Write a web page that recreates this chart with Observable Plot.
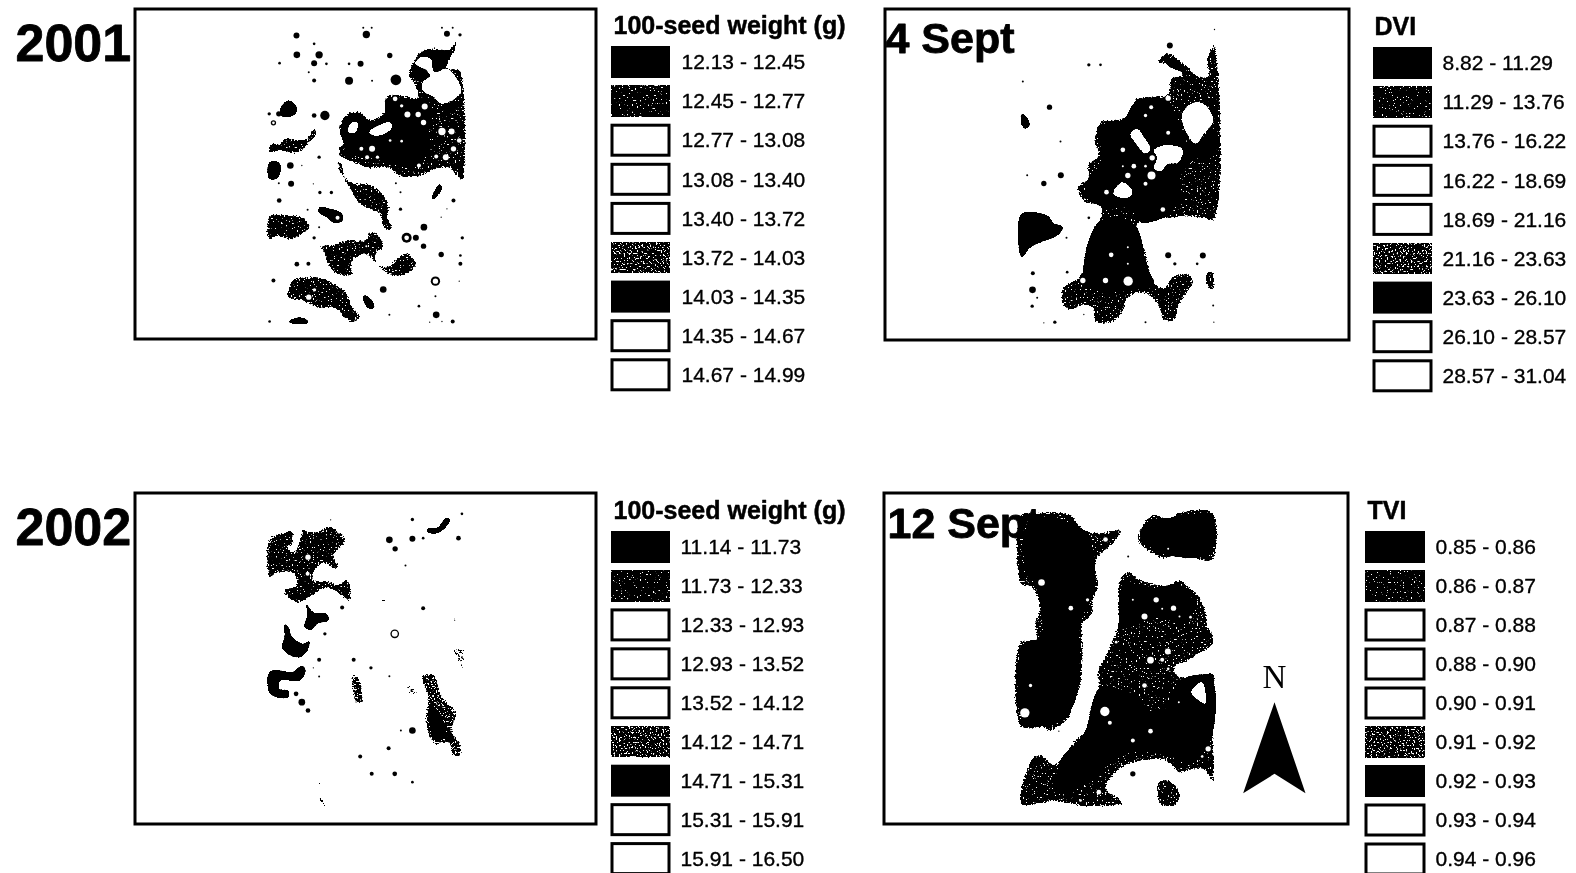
<!DOCTYPE html>
<html><head><meta charset="utf-8">
<script src="https://cdn.jsdelivr.net/npm/d3@7"></script>
<script src="https://cdn.jsdelivr.net/npm/@observablehq/plot@0.6"></script>
<style>html,body{margin:0;padding:0;background:#fff}svg{display:block;filter:blur(.45px)}</style>
</head><body><div id="chart"></div>
<script>
// ---- legend values
const seedWeight2001 = ["12.13 - 12.45","12.45 - 12.77","12.77 - 13.08","13.08 - 13.40","13.40 - 13.72","13.72 - 14.03","14.03 - 14.35","14.35 - 14.67","14.67 - 14.99"];
const seedWeight2002 = ["11.14 - 11.73","11.73 - 12.33","12.33 - 12.93","12.93 - 13.52","13.52 - 14.12","14.12 - 14.71","14.71 - 15.31","15.31 - 15.91","15.91 - 16.50"];
const dviClasses = ["8.82 - 11.29","11.29 - 13.76","13.76 - 16.22","16.22 - 18.69","18.69 - 21.16","21.16 - 23.63","23.63 - 26.10","26.10 - 28.57","28.57 - 31.04"];
const tviClasses = ["0.85 - 0.86","0.86 - 0.87","0.87 - 0.88","0.88 - 0.90","0.90 - 0.91","0.91 - 0.92","0.92 - 0.93","0.93 - 0.94","0.94 - 0.96"];
const classShade = ["solid","speck","none","none","none","heavy","solid","none","none"];

// ---- map zones, [easting, northing] in map units per panel
const a_speck = [
 [[880,390],[900,340],[935,330],[965,355],[1000,330],[1000,290],[1030,280],[1060,285],[1085,290],[1075,250],[1060,225],[1075,180],[1095,150],[1130,140],[1165,145],[1185,120],[1190,140],[1175,170],[1165,200],[1195,205],[1205,225],[1205,550],[1190,530],[1165,505],[1130,510],[1090,530],[1040,530],[1010,505],[960,505],[920,490],[900,480],[880,465],[880,440],[895,425]],
 [[700,430],[730,425],[740,410],[770,415],[800,410],[810,385],[825,385],[825,405],[805,430],[790,450],[760,462],[730,452],[698,460]],
 [[875,480],[890,485],[900,530],[925,545],[965,550],[1005,590],[1015,625],[1010,650],[1025,680],[1010,692],[995,680],[985,640],[950,625],[925,600],[905,560],[880,510]],
 [[828,735],[870,730],[905,715],[950,715],[960,692],[985,700],[1000,740],[980,760],[985,790],[1010,795],[1030,775],[1060,755],[1085,790],[1065,820],[1030,830],[1000,815],[975,790],[955,765],[925,775],[915,800],[920,820],[905,830],[865,815],[850,790],[840,755]],
 [[760,835],[840,830],[880,855],[900,870],[920,920],[940,945],[920,968],[890,950],[870,925],[830,925],[790,905],[745,890],[750,860]],
 [[698,645],[745,640],[790,650],[808,680],[790,700],[760,720],[725,710],[698,720]]
];
const a_solid = [
 [[885,390],[905,345],[935,338],[965,362],[1000,340],[1005,295],[1060,295],[1110,300],[1125,340],[1110,420],[1100,490],[1060,500],[1000,480],[950,470],[905,460],[895,430]],
 [[1075,225],[1085,170],[1130,150],[1165,155],[1160,200],[1130,215],[1100,245]],
 [[730,320],[750,300],[770,315],[770,340],[750,350],[730,345]],
 [[700,485],[725,485],[730,510],[720,535],[700,535]],
 [[830,620],[860,625],[890,640],[892,660],[870,668],[850,650],[828,635]],
 [[750,965],[770,952],[795,955],[802,968]],
 [[1125,585],[1145,550],[1150,565],[1125,600]],
 [[945,885],[960,890],[975,920],[960,925],[945,900]]
];
const a_white = [
 [[1095,170],[1120,175],[1130,215],[1165,205],[1195,250],[1200,275],[1150,310],[1130,290],[1100,270],[1100,245],[1120,225],[1095,200],[1080,190]],
 [[905,395],[915,365],[930,365],[925,395]],
 [[960,395],[985,375],[1015,365],[1020,380],[1000,400],[975,405]]
];
const a_whiteDots = [[1060,342,9],[1088,342,8],[1102,366,8],[1105,318,9],[1045,316,5],[1028,295,7],[1150,393,11],[1175,393,9],[1195,420,7],[1180,445,8],[1160,470,9],[1135,468,6],[1090,495,6],[1045,422,4],[1015,420,4],[940,445,6],[968,445,9],[955,470,6],[982,470,5],[878,495,5],[953,737,3],[818,868,5],[803,890,8]];
const a_blackDots = [[771,105,9],[953,102,11],[1163,100,9],[1197,103,5],[817,130,4],[772,163,10],[830,163,11],[817,188,9],[727,188,4],[849,190,4],[908,190,4],[938,190,9],[1014,165,8],[817,240,6],[908,241,12],[968,241,3],[803,215,3],[1030,238,16],[945,82,3],[967,82,3],[1150,82,3],[1178,82,3],[700,340,5],[725,340,8],[817,345,7],[845,345,14],[755,495,10],[830,470,5],[785,495,2],[757,550,9],[725,548,3],[815,550,2],[1030,548,3],[832,576,5],[862,576,5],[726,600,7],[1042,626,5],[1180,600,6],[1042,575,3],[1163,625,2],[1148,650,2],[800,628,3],[830,680,3],[817,712,5],[1103,680,10],[1082,712,9],[1102,737,8],[1203,712,5],[1148,762,8],[772,791,7],[802,790,6],[711,840,6],[997,867,10],[1133,887,3],[1090,917,4],[965,915,8],[1013,943,3],[1135,943,10],[1178,963,6],[701,963,4],[1150,963,2],[1198,790,6],[1198,765,4],[1118,965,2],[1195,842,2],[1100,220,16],[1085,230,10],[1058,712,15],[1133,842,14],[711,367,8]];
const a_ringHoles = [[1058,712,7],[1133,842,8],[711,367,4],[878,652,6]];

const b_speck = [
 [[870,165],[895,155],[925,175],[950,195],[985,225],[1012,225],[1005,180],[1032,130],[1032,660],[990,655],[950,650],[900,655],[860,660],[810,665],[800,690],[820,730],[835,790],[850,840],[880,860],[905,825],[960,820],[970,850],[950,880],[925,920],[915,960],[880,962],[865,925],[840,890],[800,880],[770,900],[765,925],[730,965],[670,965],[665,925],[640,915],[600,930],[575,915],[575,860],[620,830],[640,800],[640,760],[655,710],[680,670],[690,620],[640,605],[618,560],[650,530],[650,490],[680,465],[670,420],[690,360],[740,355],[780,340],[790,295],[850,285],[890,280],[895,240],[910,225],[930,225],[930,205],[895,195],[860,190]],
 [[1000,835],[1015,810],[1030,815],[1030,875],[1010,860]]
];
const b_solid = [
 [[680,380],[760,355],[795,305],[880,295],[930,370],[950,430],[1032,400],[1032,450],[960,480],[930,530],[920,610],[880,650],[810,665],[780,625],[700,620],[650,590],[650,540],[690,490],[690,430]],
 [[453,640],[530,645],[550,668],[578,680],[560,705],[510,725],[480,740],[453,770]],
 [[453,340],[465,345],[478,372],[465,385],[453,372]],
 [[690,660],[790,670],[830,800],[850,850],[780,870],[650,860],[640,790]],
 [[870,170],[925,185],[950,215],[900,200]]
];
const b_white = [
 [[940,330],[975,305],[1005,315],[1028,360],[1000,400],[975,430],[945,390],[935,360]],
 [[780,400],[800,385],[820,410],[840,445],[825,460],[805,440]],
 [[850,450],[880,435],[935,445],[925,485],[890,490],[875,510],[850,505],[860,470]],
 [[728,578],[755,545],[785,570],[780,588],[745,590]]
];
const b_whiteDots = [[893,293,8],[842,320,6],[825,345,5],[893,397,6],[757,448,7],[845,472,8],[790,497,7],[825,497,4],[757,497,3],[772,525,8],[843,525,12],[825,550,6],[708,575,7],[877,627,7],[722,763,7],[772,740,3],[772,790,3],[637,840,8],[705,840,8],[773,842,14]];
const b_blackDots = [[898,135,9],[537,320,8],[571,524,9],[520,549,8],[893,764,9],[997,765,9],[486,868,10],[570,423,3],[470,524,3],[588,712,3],[655,652,4],[690,193,4],[655,193,5],[457,243,3],[487,818,6],[500,892,3],[485,917,5],[590,815,4],[913,790,5],[980,790,4],[553,965,5],[520,967,2],[825,965,3],[1030,965,2],[1028,915,3],[1032,87,2],[640,942,2]];

const c_speck = [
 [[698,175],[750,150],[760,145],[765,190],[750,205],[765,212],[780,165],[785,140],[800,150],[830,150],[855,135],[895,165],[900,185],[880,210],[870,230],[885,255],[870,268],[845,250],[825,265],[815,295],[855,300],[880,310],[900,295],[915,320],[910,365],[890,350],[850,325],[810,350],[770,368],[735,330],[770,310],[760,280],[720,280],[700,295]]
];
const c_solid = [
 [[795,365],[815,395],[850,400],[855,420],[825,430],[810,448],[792,440],[800,400]],
 [[740,430],[750,440],[760,470],[790,490],[805,480],[800,510],[780,530],[755,525],[733,500],[740,470]],
 [[700,575],[730,570],[760,575],[785,555],[795,570],[780,600],[730,600],[725,625],[750,630],[750,650],[720,650],[700,635]],
 [[1112,145],[1140,140],[1160,112],[1172,118],[1160,140],[1140,158],[1112,155]],
 [[1120,670],[1150,710],[1160,770],[1135,780],[1115,720]]
];
const c_heavy = [
 [[1095,585],[1130,580],[1150,640],[1190,700],[1180,750],[1200,790],[1200,830],[1175,825],[1165,790],[1130,795],[1105,730],[1110,650]],
 [[915,580],[935,590],[945,670],[925,670],[915,630]]
];
const c_sparse = [
 [[1055,605],[1090,640],[1065,645]],[[1175,510],[1205,500],[1205,575],[1190,540]],
 [[990,350],[1005,350],[1005,365],[990,365]],[[1020,350],[1030,360],[1020,365]],[[830,900],[840,900],[835,915],[825,915]],[[825,950],[840,950],[850,980],[830,970]],[[840,772],[852,772],[845,785]],[[1180,405],[1195,430],[1180,430]],[[1040,530],[1050,530],[1040,545]],[[1135,560],[1150,560],[1140,575]],[[1085,560],[1097,570],[1085,575]],[[1065,430],[1075,430],[1070,440]],[[1190,630],[1197,645],[1187,645]]
];
const c_whiteDots = [[801,230,8],[800,280,6]];
const c_blackDots = [[770,640,7],[785,665,10],[801,690,7],[1073,117,5],[1073,175,9],[1101,173,4],[1193,173,7],[1202,100,4],[860,118,2],[1013,178,10],[1028,205,8],[1055,255,3],[890,381,6],[1101,383,6],[845,460,5],[830,538,6],[920,538,6],[965,562,5],[1013,587,3],[830,588,3],[815,562,2],[1073,750,10],[1043,750,3],[1011,803,6],[937,828,6],[967,880,6],[1027,880,7],[1073,905,4],[1027,460,13],[1172,775,12]];
const c_ringHoles = [[1027,460,9]];

const d_speck = [
 [[490,95],[600,100],[640,145],[690,155],[715,150],[750,145],[755,155],[725,195],[680,240],[685,320],[670,360],[670,400],[640,430],[640,500],[635,600],[625,640],[605,670],[605,700],[580,730],[535,755],[520,745],[450,740],[450,480],[495,480],[490,430],[505,380],[480,320],[450,315],[450,100]],
 [[815,130],[850,100],[900,115],[920,95],[1028,95],[1028,240],[975,235],[950,205],[925,215],[890,235],[860,230],[800,180]],
 [[745,300],[770,270],[810,295],[860,310],[900,310],[925,295],[960,320],[990,350],[1010,400],[1015,440],[1028,455],[1028,495],[990,520],[950,545],[915,560],[920,580],[950,590],[1028,578],[1028,700],[1028,910],[1000,870],[960,870],[925,880],[905,860],[880,840],[810,845],[770,855],[735,880],[710,925],[745,950],[760,970],[650,980],[550,965],[450,975],[450,920],[490,825],[520,825],[550,850],[610,780],[645,745],[655,690],[680,620],[680,570],[710,510],[740,430],[740,400]],
 [[860,905],[890,895],[930,930],[920,975],[870,975]]
];
const d_solid = [
 [[480,115],[620,135],[660,180],[670,330],[630,430],[625,600],[600,690],[530,735],[460,725],[460,490],[510,470],[510,380],[490,300],[470,280]],
 [[760,310],[860,325],[920,310],[970,370],[950,430],[860,410],[760,440]],
 [[690,620],[780,640],[840,690],[880,690],[930,600],[1020,590],[1020,780],[960,850],[880,820],[760,820],[660,900],[560,940],[570,840],[640,760]],
 [[830,125],[920,110],[1020,105],[1020,220],[880,220],[815,170]]
];
const d_heavy = [
 [[700,560],[750,470],[850,420],[920,440],[990,470],[930,510],[850,520],[830,560],[780,600],[700,590]],
 [[780,620],[830,600],[880,620],[880,670],[830,680]]
];
const d_white = [[[962,635],[995,605],[1005,670],[985,660]]];
const d_whiteDots = [[857,358,8],[909,383,8],[822,408,9],[960,410,4],[927,408,3],[892,513,9],[840,539,10],[875,538,6],[893,565,4],[822,615,7],[703,693,14],[718,727,6],[840,752,7],[787,780,6],[1013,805,8],[995,828,4],[685,935,7],[630,960,4],[737,485,4],[787,358,3],[875,385,3],[925,665,3],[513,306,10],[705,177,7],[601,383,7],[651,358,5],[480,615,5],[463,697,14],[893,205,3]];
const d_blackDots = [[773,228,3],[945,228,5],[787,880,8],[565,752,2]];
const d_arrow = [[[1212,665],[1305,938],[1212,880],[1118,938]]];

// ---- layout (page pixels)
const panels = {
 A:{ox:0,oy:0,sx:2.605,sy:3}, B:{ox:870,oy:0,sx:3,sy:3},
 C:{ox:0,oy:480,sx:2.605,sy:3}, D:{ox:870,oy:480,sx:3,sy:3}
};
const frames = [{x1:135,x2:596,y1:9,y2:339},{x1:885,x2:1349,y1:9,y2:340},{x1:135,x2:596,y1:493,y2:824},{x1:884,x2:1348,y1:493,y2:824}];
const legends = [
 {title:"100-seed weight (g)",labels:seedWeight2001,sw:[612,669],lx:681,tx:613,ty:25,y0:62,dy:39.1},
 {title:"DVI",labels:dviClasses,sw:[1374,1431],lx:1442,tx:1374,ty:26,y0:63,dy:39.1},
 {title:"100-seed weight (g)",labels:seedWeight2002,sw:[612,669],lx:680,tx:613,ty:510,y0:547,dy:38.95},
 {title:"TVI",labels:tviClasses,sw:[1366,1424],lx:1435,tx:1367,ty:510,y0:547,dy:39}
];
const headings = [
 {t:"2001",x:15,y:60,s:52},{t:"2002",x:15,y:544,s:52},{t:"4 Sept",x:885,y:52,s:43},{t:"12 Sept",x:887,y:537,s:43}
];

// ---- assemble rows
const poly = (p,list,tag)=>list.flatMap((pts,k)=>pts.map(([cx,cy])=>({id:p+tag+k,x:panels[p].ox+cx/panels[p].sx,y:panels[p].oy+cy/panels[p].sy})));
const dots = (p,list)=>list.map(([cx,cy,r])=>({x:panels[p].ox+cx/panels[p].sx,y:panels[p].oy+cy/panels[p].sy,r:r/3}));
const speck = [...poly("A",a_speck,"s"),...poly("B",b_speck,"s"),...poly("C",c_speck,"s"),...poly("D",d_speck,"s")];
const solid = [...poly("A",a_solid,"o"),...poly("B",b_solid,"o"),...poly("C",c_solid,"o"),...poly("D",d_solid,"o")];
const heavy = [...poly("C",c_heavy,"h"),...poly("D",d_heavy,"h")];
const sparse = poly("C",c_sparse,"p");
const white = [...poly("A",a_white,"w"),...poly("B",b_white,"w"),...poly("D",d_white,"w")];
const whiteDots = [...dots("A",a_whiteDots),...dots("B",b_whiteDots),...dots("C",c_whiteDots),...dots("D",d_whiteDots)];
const blackDots = [...dots("A",a_blackDots),...dots("B",b_blackDots),...dots("C",c_blackDots),...dots("D",d_blackDots)];
const ringHoles = [...dots("A",a_ringHoles),...dots("C",c_ringHoles)];
const arrow = poly("D",d_arrow,"a");

const swatches = legends.flatMap(l=>l.labels.map((lab,i)=>({lab,shade:classShade[i],x1:l.sw[0],x2:l.sw[1],y1:l.y0+i*l.dy-15,y2:l.y0+i*l.dy+15,lx:l.lx,y:l.y0+i*l.dy})));
const blob = (rows,fill)=>Plot.line(rows,{x:"x",y:"y",z:"id",fill,stroke:"none",curve:"catmull-rom-closed"});
const swatch = (s)=>Plot.rect(swatches.filter(d=>d.shade===s),{x1:"x1",x2:"x2",y1:"y1",y2:"y2",fill:"#000",stroke:"#000",strokeWidth:2});

const layers = [
  [Plot.text(headings,{x:"x",y:"y",text:"t",fontSize:"s",fontWeight:"bold",fontFamily:"Liberation Sans",textAnchor:"start",lineAnchor:"bottom",fill:"#000",stroke:"#000",strokeWidth:.8})],
  [blob(speck,"#000"),"f-speck"],
  [blob(solid,"#000"),"f-solid"],
  [blob(heavy,"#000"),"f-heavy"],
  [blob(sparse,"#000"),"f-sparse"],
  [blob(white,"#fff"),"f-white"],
  [Plot.dot(whiteDots,{x:"x",y:"y",r:"r",fill:"#fff",stroke:"none"})],
  [Plot.dot(blackDots,{x:"x",y:"y",r:"r",fill:"#000",stroke:"none"})],
  [Plot.dot(ringHoles,{x:"x",y:"y",r:"r",fill:"#fff",stroke:"none"})],
  [Plot.line(arrow,{x:"x",y:"y",z:"id",fill:"#000",stroke:"none",curve:"linear-closed"})],
  [Plot.text(["N"],{x:[1274],y:[677],fontSize:33,fontFamily:"Liberation Serif",fill:"#000",textAnchor:"middle"})],
  [Plot.rect(frames,{x1:"x1",x2:"x2",y1:"y1",y2:"y2",fill:"none",stroke:"#000",strokeWidth:3})],
  [Plot.rect(swatches.filter(d=>d.shade==="none"),{x1:"x1",x2:"x2",y1:"y1",y2:"y2",fill:"#fff",stroke:"#000",strokeWidth:3})],
  [swatch("solid")],[swatch("speck"),"fs-speck"],[swatch("heavy"),"fs-heavy"],
  [Plot.text(swatches,{x:"lx",y:"y",text:"lab",fontSize:21,fontFamily:"Liberation Sans",textAnchor:"start",fill:"#000",stroke:"#000",strokeWidth:.35})],
  [Plot.text(legends,{x:"tx",y:"ty",text:"title",fontSize:25,fontWeight:"bold",fontFamily:"Liberation Sans",textAnchor:"start",fill:"#000",stroke:"#000",strokeWidth:.5})]
];
const svg = Plot.plot({
 width:1576,height:873,margin:0,
 x:{domain:[0,1576],range:[0,1576],axis:null},
 y:{domain:[0,873],range:[0,873],axis:null},
 r:{type:"identity"},
 marks:layers.map(l=>l[0])
});
svg.style.background="#fff";

// print texture of the scanned map classes: alpha(b - w*noise) thresholded at T
const tpl=(id,blur,w,T,isWhite)=>`<filter id="${id}" x="0" y="0" width="1576" height="873" filterUnits="userSpaceOnUse" color-interpolation-filters="sRGB">
<feGaussianBlur in="SourceAlpha" stdDeviation="${blur}" result="b"/>
<feTurbulence type="fractalNoise" baseFrequency="0.62" numOctaves="1" seed="8" result="n"/>
<feColorMatrix in="n" type="matrix" values="0 0 0 0 0 0 0 0 0 0 0 0 0 0 0 1 0 0 0 0" result="na"/>
<feComposite in="b" in2="na" operator="arithmetic" k1="0" k2="1" k3="${-w}" k4="0" result="v"/>
<feComponentTransfer in="v" result="t"><feFuncA type="linear" slope="25" intercept="${-25*T}"/></feComponentTransfer>
${isWhite?'<feColorMatrix in="t" type="matrix" values="0 0 0 0 1 0 0 0 0 1 0 0 0 0 1 0 0 0 1 0"/>':''}</filter>`;
const defs=document.createElementNS("http://www.w3.org/2000/svg","defs");
defs.innerHTML=tpl("f-speck",1.5,1,.3)+tpl("f-solid",1.2,.3,.3)+tpl("f-heavy",1.5,1,.37)+tpl("f-sparse",1.2,1,.5)+tpl("f-white",1.2,.3,.3,true)+tpl("fs-speck",0.01,1,.29)+tpl("fs-heavy",0.01,1,.36);
svg.insertBefore(defs,svg.firstChild);
const groups=[...svg.children].filter(e=>e.tagName.toLowerCase()==="g");
layers.forEach((l,i)=>{ if(l[1]&&groups[i]) groups[i].setAttribute("filter",`url(#${l[1]})`); });
document.getElementById("chart").append(svg);
</script></body></html>
